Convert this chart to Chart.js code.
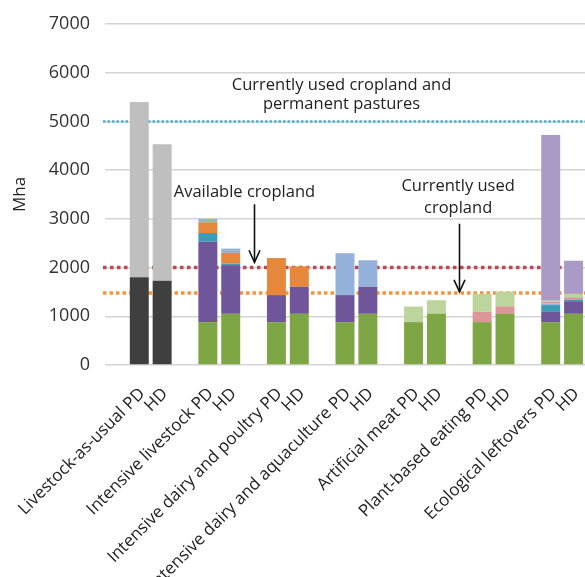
<!DOCTYPE html>
<html><head><meta charset="utf-8">
<script src="https://cdn.jsdelivr.net/npm/chart.js@4"></script>
<style>html,body{margin:0;padding:0;background:#fff;}#wrap{width:585px;height:577px;position:relative;}</style>
</head><body><div id="wrap"><canvas id="c"></canvas></div>
<script>
// Scenarios and diets
const scenarios = ['Livestock-as-usual','Intensive livestock','Intensive dairy and poultry','Intensive dairy and aquaculture','Artificial meat','Plant-based eating','Ecological leftovers'];
const diets = ['PD','HD'];
// Values (Mha) per bar: [scen1 PD, scen1 HD, scen2 PD, scen2 HD, ...]
const darkGray    = [1800,1730,    0,   0,   0,   0,   0,   0,   0,   0,   0,   0,   0,   0];
const lightGray   = [3600,2800,    0,   0,   0,   0,   0,   0,   0,   0,   0,   0,   0,   0];
const green       = [   0,   0,  880,1050, 880,1050, 880,1050, 880,1050, 880,1050, 880,1050];
const purple      = [   0,   0, 1650,1000, 555, 555, 555, 555,   0,   0,   0,   0, 210, 260];
const teal        = [   0,   0,  180,  30,   0,   0,   0,   0,   0,   0,   0,   0, 140,  30];
const orange      = [   0,   0,  220, 220, 760, 420,   0,   0,   0,   0,   0,   0,   0,   0];
const lightBlue   = [   0,   0,   70,  90,   0,   0, 860, 545,   0,   0,   0,   0,  30,   0];
const pink        = [   0,   0,    0,   0,   0,   0,   0,   0,   0,   0, 210, 155,  40,  50];
const lightGreen  = [   0,   0,    0,   0,   0,   0,   0,   0, 320, 280, 370, 300,  20,  70];
const lightPurple = [   0,   0,    0,   0,   0,   0,   0,   0,   0,   0,   0,   0,3400, 680];
// Reference levels (Mha)
const refLevels = [5000, 2000, 1480];
const yTicks = [0,1000,2000,3000,4000,5000,6000,7000];

const seriesList = [darkGray, lightGray, green, purple, teal, orange, lightBlue, pink, lightGreen, lightPurple];
const seriesColors = ['#3f3f3f','#bfbfbf','#7ea644','#6f5599','#3d9cb4','#e6883b','#94b2da','#dd9697','#bcd59c','#a99bc5'];
const refStyles = [
  {color:'#4eb0cc', width:2.5, dash:[2.5,2]},
  {color:'#b94a55', width:3.5, dash:[3.5,3.5]},
  {color:'#f5953f', width:3.5, dash:[3.5,3]}
];

// Build category labels with a blank slot before each scenario
const labels = [];
scenarios.forEach(s => { labels.push(''); labels.push(s + ' ' + diets[0]); labels.push(diets[1]); });
function expand(arr){
  const out = [];
  scenarios.forEach((s,i) => { out.push(null); out.push(arr[2*i] || null); out.push(arr[2*i+1] || null); });
  return out;
}
const datasets = seriesList.map((arr,i) => ({
  data: expand(arr), backgroundColor: seriesColors[i], borderWidth: 0,
  barPercentage: 0.83, categoryPercentage: 1.0, stack: 's'
}));

// Annotations (positions in data units: x = category index, y = Mha)
const notes = [
  {lines:['Currently used cropland and','permanent pastures'], x:9.85, y:[5735,5347]},
  {lines:['Available cropland'], x:5.6, y:[3551]},
  {lines:['Currently used','cropland'], x:14.95, y:[3673,3224]}
];
const arrows = [
  {x:6.0, from:3300, to:2110},
  {x:15.0, from:2900, to:1500}
];

const FONT = '"Open Sans", sans-serif';

const overlay = {
  id:'overlay',
  beforeDatasetsDraw(chart){
    const {ctx, chartArea, scales:{y}} = chart;
    ctx.save();
    refLevels.forEach((v,i) => {
      const st = refStyles[i];
      const py = y.getPixelForValue(v);
      ctx.strokeStyle = st.color; ctx.lineWidth = st.width; ctx.setLineDash(st.dash);
      ctx.beginPath(); ctx.moveTo(chartArea.left - 2, py); ctx.lineTo(chartArea.right, py); ctx.stroke();
    });
    ctx.restore();
  },
  afterDatasetsDraw(chart){
    const {ctx, scales:{x,y}} = chart;
    ctx.save();
    ctx.fillStyle = '#222'; ctx.font = '16.5px ' + FONT;
    ctx.textAlign = 'center'; ctx.textBaseline = 'middle';
    notes.forEach(n => {
      const px = x.getPixelForValue(n.x);
      n.lines.forEach((t,j) => ctx.fillText(t, px, y.getPixelForValue(n.y[j])));
    });
    ctx.strokeStyle = '#111'; ctx.lineWidth = 1.6; ctx.setLineDash([]);
    arrows.forEach(a => {
      const px = Math.round(x.getPixelForValue(a.x)) + 0.5;
      const y0 = y.getPixelForValue(a.from), y1 = y.getPixelForValue(a.to);
      ctx.beginPath(); ctx.moveTo(px, y0); ctx.lineTo(px, y1); ctx.stroke();
      ctx.beginPath(); ctx.moveTo(px - 5.5, y1 - 12); ctx.lineTo(px, y1); ctx.lineTo(px + 5.5, y1 - 12); ctx.stroke();
    });
    ctx.restore();
  }
};

new Chart(document.getElementById('c'), {
  type:'bar',
  data:{labels, datasets},
  options:{
    responsive:true, maintainAspectRatio:false, animation:false,
    layout:{padding:{top:24, right:0, left:0, bottom:0}},
    plugins:{legend:{display:false}, tooltip:{enabled:false}},
    scales:{
      x:{
        stacked:true,
        grid:{display:false, drawTicks:false},
        border:{display:false},
        ticks:{autoSkip:false, minRotation:45, maxRotation:45, padding:19, labelOffset:3, color:'#222', font:{family:FONT, size:17}},
        afterFit(scale){ scale.height = 212; scale.paddingLeft = 0; scale.paddingRight = 0; }
      },
      y:{
        stacked:true, min:0, max:7000,
        afterBuildTicks(scale){ scale.ticks = yTicks.map(v => ({value:v})); },
        grid:{color:'#d4d4d4', lineWidth:1.5, drawTicks:false},
        border:{display:false},
        ticks:{padding:15, color:'#333', font:{family:FONT, size:18}, callback:(v) => String(v)},
        title:{display:true, text:'Mha', color:'#222', font:{family:FONT, size:17}, padding:{top:10, bottom:0}},
        afterFit(scale){ scale.width = 105; scale.paddingTop = 0; scale.paddingBottom = 0; }
      }
    }
  },
  plugins:[overlay]
});
</script></body></html>
